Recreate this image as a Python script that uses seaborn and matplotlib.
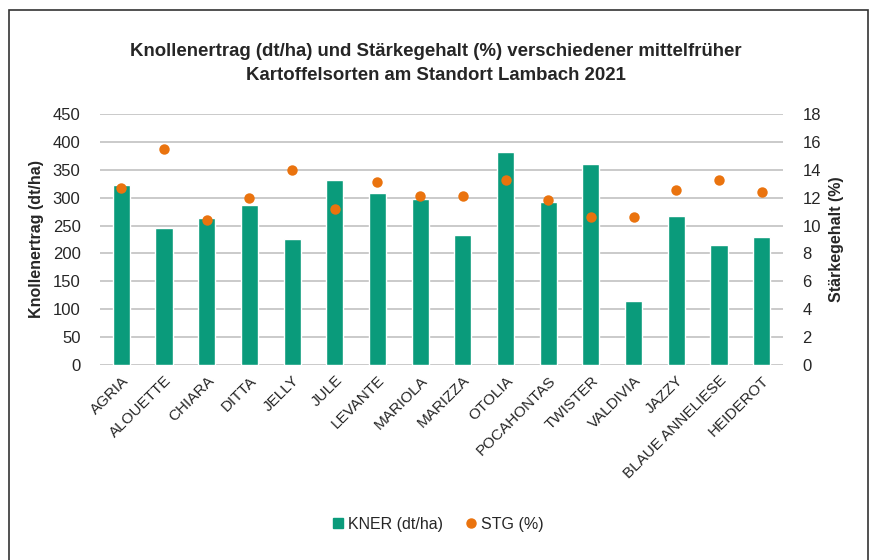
import numpy as np
import pandas as pd
import seaborn as sns
import matplotlib.pyplot as plt
from matplotlib.lines import Line2D
from matplotlib.patches import Rectangle

# Sorten und Messwerte
sorten = ['AGRIA', 'ALOUETTE', 'CHIARA', 'DITTA', 'JELLY', 'JULE', 'LEVANTE',
          'MARIOLA', 'MARIZZA', 'OTOLIA', 'POCAHONTAS', 'TWISTER', 'VALDIVIA',
          'JAZZY', 'BLAUE ANNELIESE', 'HEIDEROT']
kner = [322, 245, 263, 286, 226, 331, 308, 297, 233, 382, 293, 360, 114, 267, 215, 230]
stg = [12.7, 15.5, 10.4, 11.95, 14.0, 11.2, 13.15, 12.1, 12.1, 13.3, 11.8, 10.6,
       10.6, 12.55, 13.3, 12.4]

green = '#0a9b7b'
orange = '#ea730e'

sns.set_style('white')
plt.rcParams['font.family'] = ['Liberation Sans', 'DejaVu Sans']

df = pd.DataFrame({'Sorte': sorten, 'KNER': kner, 'STG': stg})

fig = plt.figure(figsize=(8.72, 5.6), dpi=100)
ax = fig.add_axes([100 / 872, 1 - 365 / 560, 683 / 872, 251 / 560])

sns.barplot(data=df, x='Sorte', y='KNER', color=green, width=0.4,
            saturation=1, ax=ax)
ax.set_ylim(0, 450)
ax.set_yticks(np.arange(0, 451, 50))
ax.yaxis.grid(True, color='#c6c6c6', linewidth=1.3)
ax.set_axisbelow(True)
ax.set_xlabel('')
ax.set_ylabel('Knollenertrag (dt/ha)', fontsize=11.5, fontweight='bold', labelpad=6)
ax.tick_params(axis='y', labelsize=12, length=0, pad=14)
ax.tick_params(axis='x', labelsize=11, length=0, pad=6)
ax.set_xticks(range(len(sorten)))
ax.set_xticklabels(sorten, rotation=45, ha='right', rotation_mode='anchor')
for s in ax.spines.values():
    s.set_visible(False)

ax2 = ax.twinx()
sns.stripplot(data=df, x='Sorte', y='STG', color=orange, jitter=False, size=7.5,
              ax=ax2)
ax2.set_ylim(0, 18)
ax2.set_yticks(np.arange(0, 19, 2))
ax2.set_xlim(-0.5, len(sorten) - 0.5)
ax.set_xlim(-0.5, len(sorten) - 0.5)
ax2.set_ylabel('Stärkegehalt (%)', fontsize=11.5, fontweight='bold', labelpad=6)
ax2.tick_params(axis='y', labelsize=12, length=0, pad=14)
ax2.grid(False)
for s in ax2.spines.values():
    s.set_visible(False)

fig.suptitle('Knollenertrag (dt/ha) und Stärkegehalt (%) verschiedener mittelfrüher\n'
             'Kartoffelsorten am Standort Lambach 2021',
             fontsize=13.4, fontweight='bold', y=1 - 43 / 560, va='top',
             linespacing=1.55)

handles = [Line2D([], [], marker='s', color='none', markerfacecolor=green,
                  markeredgecolor=green, markersize=6.5, label='KNER (dt/ha)'),
           Line2D([], [], marker='o', color='none', markerfacecolor=orange,
                  markeredgecolor=orange, markersize=6.5, label='STG (%)')]
fig.legend(handles=handles, loc='center', bbox_to_anchor=(0.5, 1 - 524 / 560),
           ncol=2, frameon=False, fontsize=11.5, handletextpad=0.0,
           handlelength=1.2, columnspacing=1.2)

fig.patches.append(Rectangle((9 / 872, -0.05), 859 / 872, 1.05 - 10 / 560,
                             transform=fig.transFigure, fill=False,
                             edgecolor='#333333', linewidth=1.2))

fig.savefig('out.png', dpi=100)
